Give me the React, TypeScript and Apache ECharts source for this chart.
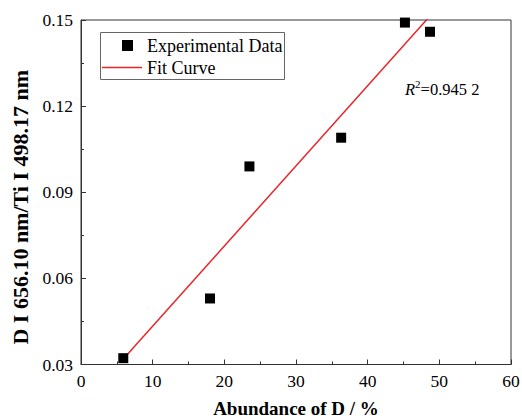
import React, { useEffect, useRef } from "react";
import * as echarts from "echarts";

const abundance = [5.9, 18.0, 23.5, 36.3, 45.2, 48.7];
const ratio = [0.0322, 0.0530, 0.0990, 0.1090, 0.1491, 0.1459];
const fitX = [5.9, 48.7];
const fitY = [0.0319, 0.1514];
const xTitle = "Abundance of D / %";
const yTitle = "D I 656.10 nm/Ti I 498.17 nm";
const legendNames = ["Experimental Data", "Fit Curve"];
const r2Text = "0.945 2";

const FONT = "Liberation Serif";

export default function App() {
  const ref = useRef<HTMLDivElement>(null);
  useEffect(() => {
    const chart = echarts.init(ref.current!, null, { renderer: "svg" });
    const axisCommon = {
      axisLine: { show: true, lineStyle: { color: "#333", width: 1 } },
      axisTick: { show: true, inside: true, length: 5, lineStyle: { color: "#333" } },
      minorTick: { show: true, splitNumber: 2, length: 3, lineStyle: { color: "#333" } },
      splitLine: { show: false },
    };
    chart.setOption({
      animation: false,
      backgroundColor: "#fff",
      textStyle: { fontFamily: FONT },
      grid: {
        left: 81, top: 20, right: 11, bottom: 53.5,
        containLabel: false,
        outerBoundsMode: "none",
        show: true, borderColor: "#333", borderWidth: 1,
      },
      xAxis: {
        type: "value", min: 0, max: 60, interval: 10,
        ...axisCommon,
        axisLabel: { fontFamily: FONT, fontSize: 17.5, color: "#000", margin: 7 },
        name: xTitle, nameLocation: "middle", nameGap: 34,
        nameTextStyle: { fontFamily: FONT, fontSize: 19, fontWeight: "bold", color: "#000" },
      },
      yAxis: {
        type: "value", min: 0.03, max: 0.15, interval: 0.03,
        ...axisCommon,
        axisLabel: {
          fontFamily: FONT, fontSize: 17.5, color: "#000", margin: 8,
          formatter: (v: number) => v.toFixed(2),
        },
        name: yTitle, nameLocation: "middle", nameGap: 50, nameRotate: 90,
        nameTextStyle: {
          fontFamily: FONT, fontSize: 22, fontWeight: "bold", color: "#000",
          padding: [0, 30, 0, 0],
        },
      },
      series: [
        {
          type: "line",
          name: legendNames[1],
          data: fitX.map((x, i) => [x, fitY[i]]),
          showSymbol: false,
          symbol: "none",
          lineStyle: { color: "#e8262a", width: 1.5 },
          clip: true,
          z: 2,
        },
        {
          type: "scatter",
          name: legendNames[0],
          data: abundance.map((x, i) => [x, ratio[i]]),
          symbol: "rect",
          symbolSize: 10,
          itemStyle: { color: "#000", opacity: 1 },
          z: 3,
        },
      ],
      graphic: [
        {
          type: "rect",
          shape: { x: 100.5, y: 32.5, width: 184, height: 47 },
          style: { fill: "#fff", stroke: "#666", lineWidth: 1 },
          z: 10,
        },
        {
          type: "rect",
          shape: { x: 122, y: 40, width: 11, height: 11 },
          style: { fill: "#000" },
          z: 11,
        },
        {
          type: "text",
          x: 147, y: 46,
          style: { text: legendNames[0], fontFamily: FONT, fontSize: 18, fill: "#000", verticalAlign: "middle" },
          z: 11,
        },
        {
          type: "line",
          shape: { x1: 102, y1: 67.5, x2: 142, y2: 67.5 },
          style: { stroke: "#e8262a", lineWidth: 1.5 },
          z: 11,
        },
        {
          type: "text",
          x: 147, y: 68,
          style: { text: legendNames[1], fontFamily: FONT, fontSize: 18, fill: "#000", verticalAlign: "middle" },
          z: 11,
        },
        {
          type: "text",
          x: 405, y: 88,
          style: {
            text: "{i|R}{s|2}{n|=" + r2Text + "}",
            verticalAlign: "middle",
            rich: {
              i: { fontFamily: FONT, fontSize: 16.5, fontStyle: "italic", fill: "#000", verticalAlign: "bottom" },
              s: { fontFamily: FONT, fontSize: 11, fill: "#000", verticalAlign: "top", padding: [0, 0, 8, 0] },
              n: { fontFamily: FONT, fontSize: 16.5, fill: "#000", verticalAlign: "bottom" },
            },
          },
          z: 11,
        },
      ],
    });
    return () => chart.dispose();
  }, []);
  return (
    <div
      ref={ref}
      style={{ position: "absolute", left: 0, top: 0, width: 522, height: 418 }}
    />
  );
}
